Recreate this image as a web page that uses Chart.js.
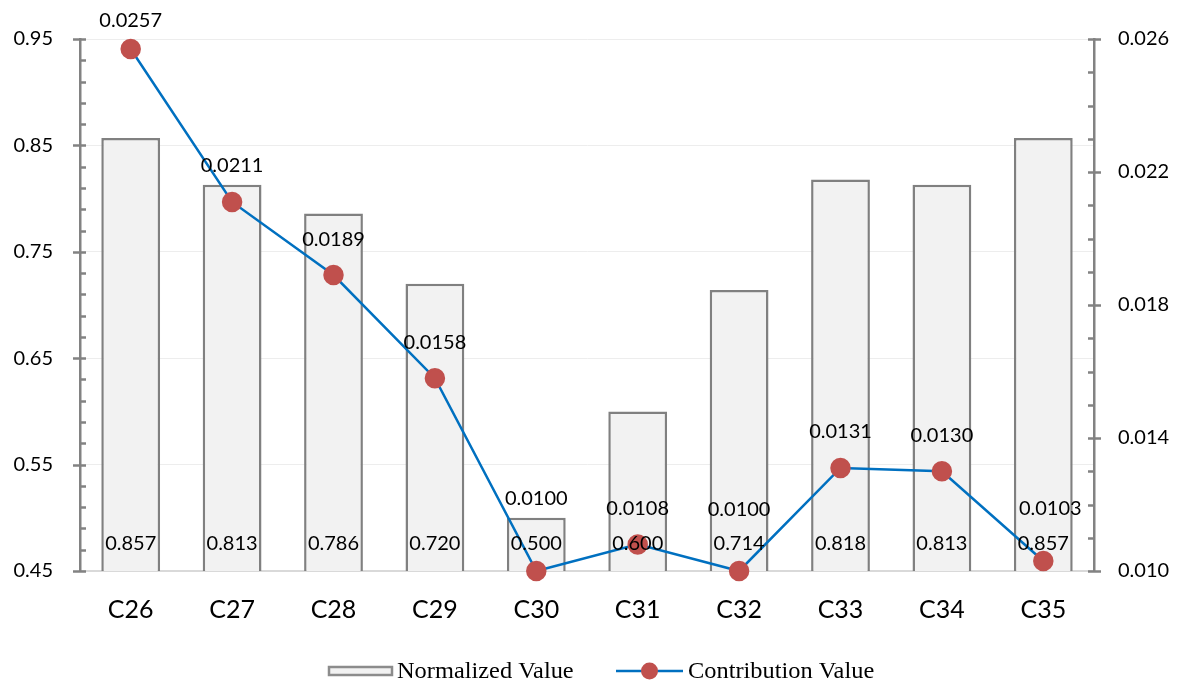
<!DOCTYPE html>
<html>
<head>
<meta charset="utf-8">
<title>Normalized and contribution values</title>
<script src="https://cdn.jsdelivr.net/npm/chart.js@4.4.1/dist/chart.umd.min.js"></script>
<style>
  html, body { margin: 0; padding: 0; background: #ffffff; }
  #chart { display: block; }
</style>
</head>
<body>
<canvas id="chart" width="1179" height="682"></canvas>
<script>
const categories = ["C26", "C27", "C28", "C29", "C30", "C31", "C32", "C33", "C34", "C35"];
const normalizedValues = [0.857, 0.813, 0.786, 0.720, 0.500, 0.600, 0.714, 0.818, 0.813, 0.857];
const contributionValues = [0.0257, 0.0211, 0.0189, 0.0158, 0.0100, 0.0108, 0.0100, 0.0131, 0.0130, 0.0103];
const leftTicks = [0.45, 0.55, 0.65, 0.75, 0.85, 0.95];
const rightTicks = [0.010, 0.014, 0.018, 0.022, 0.026];

const numFont = "Lato, 'Open Sans', sans-serif";
const axisGrey = "#828282";

// how far above each marker its value label sits (px), plus a small x nudge
const lineLabelLift = [28, 36, 36, 36, 72, 36, 61, 36, 36, 52];
const lineLabelShift = [0, 0, 0, 0, 0, 0, 0, 0, 0, 7];

// tick marks: majors cross the axis line, minors point into the plot
const tickMarks = {
  id: "tickMarks",
  afterDraw(chart) {
    const ctx = chart.ctx;
    const yl = chart.scales.y;
    const yr = chart.scales.y1;
    ctx.save();
    ctx.strokeStyle = axisGrey;
    ctx.lineWidth = 2.5;
    ctx.beginPath();
    for (let i = 0; i <= 25; i++) {
      const v = 0.45 + i * 0.02;
      const py = Math.round(yl.getPixelForValue(v)) + 0.5;
      const major = i % 5 === 0;
      ctx.moveTo(yl.right - (major ? 7 : 0), py);
      ctx.lineTo(yl.right + 6, py);
    }
    for (let i = 0; i <= 16; i++) {
      const v = 0.010 + i * 0.001;
      const py = Math.round(yr.getPixelForValue(v)) + 0.5;
      const major = i % 4 === 0;
      ctx.moveTo(yr.left - 6, py);
      ctx.lineTo(yr.left + (major ? 7 : 0), py);
    }
    ctx.stroke();
    ctx.restore();
  }
};

// value labels on bars and line markers
const valueLabels = {
  id: "valueLabels",
  afterDatasetsDraw(chart) {
    const ctx = chart.ctx;
    ctx.save();
    ctx.fillStyle = "#000000";
    ctx.font = "20px " + numFont;
    ctx.textAlign = "center";
    ctx.textBaseline = "middle";
    const yBottom = chart.scales.y.getPixelForValue(0.45);
    chart.getDatasetMeta(0).data.forEach((bar, i) => {
      ctx.fillText(normalizedValues[i].toFixed(3), bar.x, yBottom - 27);
    });
    chart.getDatasetMeta(1).data.forEach((pt, i) => {
      ctx.fillText(contributionValues[i].toFixed(4), pt.x + lineLabelShift[i], pt.y - lineLabelLift[i]);
    });
    ctx.restore();
  }
};

// legend row along the bottom
const bottomLegend = {
  id: "bottomLegend",
  afterDraw(chart) {
    const ctx = chart.ctx;
    const y = 671;
    ctx.save();
    ctx.fillStyle = "#f2f2f2";
    ctx.strokeStyle = "#8c8c8c";
    ctx.lineWidth = 2.5;
    ctx.fillRect(329, y - 4, 63, 8);
    ctx.strokeRect(329, y - 4, 63, 8);

    ctx.strokeStyle = "#0070c0";
    ctx.lineWidth = 2.5;
    ctx.beginPath();
    ctx.moveTo(616, y);
    ctx.lineTo(683, y);
    ctx.stroke();
    ctx.fillStyle = "#c0504d";
    ctx.beginPath();
    ctx.arc(649.5, y, 8.5, 0, Math.PI * 2);
    ctx.fill();

    // the legend face is a touch wider than plain Times
    ctx.fillStyle = "#000000";
    ctx.font = "23px 'Liberation Serif', 'Times New Roman', serif";
    ctx.textAlign = "left";
    ctx.textBaseline = "middle";
    [[chart.data.datasets[0].label, 397], [chart.data.datasets[1].label, 688]].forEach(([text, x]) => {
      ctx.save();
      ctx.translate(x, y + 1);
      ctx.scale(1.06, 1);
      ctx.fillText(text, 0, 0);
      ctx.restore();
    });
    ctx.restore();
  }
};

new Chart(document.getElementById("chart"), {
  type: "bar",
  data: {
    labels: categories,
    datasets: [
      {
        type: "bar",
        label: "Normalized Value",
        data: normalizedValues,
        yAxisID: "y",
        backgroundColor: "#f2f2f2",
        borderColor: "#808080",
        borderWidth: 2.5,
        borderSkipped: "bottom",
        categoryPercentage: 1,
        barPercentage: 0.58,
        order: 2
      },
      {
        type: "line",
        label: "Contribution Value",
        data: contributionValues,
        yAxisID: "y1",
        borderColor: "#0070c0",
        borderWidth: 2.5,
        pointBackgroundColor: "#c0504d",
        pointBorderColor: "#c0504d",
        pointRadius: 9,
        pointHoverRadius: 9,
        tension: 0,
        clip: false,
        order: 1
      }
    ]
  },
  options: {
    responsive: false,
    animation: false,
    events: [],
    layout: { padding: { top: 38, left: 0, right: 0, bottom: 0 } },
    plugins: {
      legend: { display: false },
      tooltip: { enabled: false }
    },
    scales: {
      x: {
        offset: true,
        grid: { display: false, drawTicks: false },
        border: { color: "#d9d9d9", width: 2 },
        ticks: { color: "#000000", font: { family: numFont, size: 25 }, padding: 24 },
        afterFit(scale) { scale.height = 111; }
      },
      y: {
        position: "left",
        min: 0.45,
        max: 0.95,
        afterBuildTicks(scale) { scale.ticks = leftTicks.map(v => ({ value: v })); },
        grid: { color: "#ededed", lineWidth: 1, drawTicks: false },
        border: { color: axisGrey, width: 2.5 },
        ticks: {
          color: "#000000",
          font: { family: numFont, size: 20 },
          padding: 27,
          callback: v => v.toFixed(2)
        },
        afterFit(scale) { scale.width = 80; }
      },
      y1: {
        position: "right",
        min: 0.010,
        max: 0.026,
        afterBuildTicks(scale) { scale.ticks = rightTicks.map(v => ({ value: v })); },
        grid: { drawOnChartArea: false, drawTicks: false },
        border: { color: axisGrey, width: 2.5 },
        ticks: {
          color: "#000000",
          font: { family: numFont, size: 20 },
          padding: 24,
          callback: v => v.toFixed(3)
        },
        afterFit(scale) { scale.width = 85; }
      }
    }
  },
  plugins: [tickMarks, valueLabels, bottomLegend]
});
</script>
</body>
</html>
